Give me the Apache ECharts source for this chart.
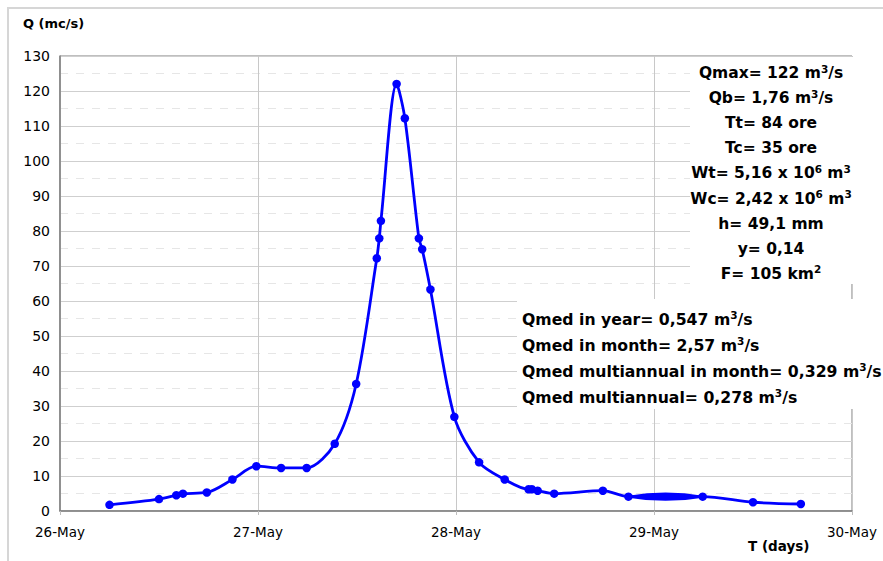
<!DOCTYPE html>
<html>
<head>
<meta charset="utf-8">
<script src="https://cdn.jsdelivr.net/npm/echarts@6/dist/echarts.min.js"></script>
<style>
  html, body { margin: 0; padding: 0; background: #ffffff; }
  #chart { width: 883px; height: 561px; }
</style>
</head>
<body>
<div id="chart"></div>
<script>
// Flood hydrograph: hours counted from 26-May 00:00, discharge in m3/s
const hours = [6, 12, 14.1, 14.9, 17.8, 20.9, 23.8, 26.8, 29.9, 33.3, 35.9,
               38.4, 38.7, 38.9, 40.8, 41.8, 43.5, 43.9, 44.9, 47.8,
               50.8, 53.9, 56.8, 57.2, 57.9, 59.9, 65.8, 68.9, 77.9, 84, 89.8];
const flow  = [1.76, 3.4, 4.5, 4.95, 5.3, 9.0, 12.8, 12.3, 12.3, 19.2, 36.3,
               72.2, 77.9, 82.9, 122, 112.2, 77.9, 74.8, 63.3, 26.9,
               13.9, 9.0, 6.2, 6.2, 5.8, 4.95, 5.8, 4.1, 4.1, 2.5, 2.0];
const dayLabels = ['26-May', '27-May', '28-May', '29-May', '30-May'];
const yTicks = [0, 10, 20, 30, 40, 50, 60, 70, 80, 90, 100, 110, 120, 130];

// Summary lines (parameters of the flood wave)
const statsLines = [
  ['Qmax= 122 m', '3', '/s'],
  ['Qb= 1,76 m', '3', '/s'],
  ['Tt= 84 ore'],
  ['Tc= 35 ore'],
  ['Wt= 5,16 x 10', '6', ' m', '3'],
  ['Wc= 2,42 x 10', '6', ' m', '3'],
  ['h= 49,1 mm'],
  ['y= 0,14'],
  ['F= 105 km', '2']
];
const meanLines = [
  ['Qmed in year= 0,547 m', '3', '/s'],
  ['Qmed in month= 2,57 m', '3', '/s'],
  ['Qmed multiannual in month= 0,329 m', '3', '/s'],
  ['Qmed multiannual= 0,278 m', '3', '/s']
];

// Segment where the smoothed curve doubles over itself (29-May)
const loopFrom = 27;

const series = hours.map((h, i) => [h, flow[i]]);
const FONT = 'DejaVu Sans, Verdana, sans-serif';

function richLine(parts) {
  return parts.map((p, i) => (i % 2 === 0 ? '{b|' + p + '}' : '{s|' + p + '}')).join('');
}
function makeRich(size) {
  return {
    b: { fontFamily: FONT, fontWeight: 'bold', fontSize: size, lineHeight: 20, color: '#000' },
    s: { fontFamily: FONT, fontWeight: 'bold', fontSize: 10.5, lineHeight: 11, verticalAlign: 'top', color: '#000' }
  };
}

const graphics = [
  // outer chart frame
  { type: 'rect', z: 1, silent: true,
    shape: { x: 8, y: 8, width: 880, height: 560 },
    style: { fill: 'none', stroke: '#d6d6d6', lineWidth: 2 } },
  // white panels behind the annotation text
  { type: 'rect', z: 50, shape: { x: 690, y: 57, width: 193, height: 227 }, style: { fill: '#ffffff' } },
  { type: 'rect', z: 50, shape: { x: 517, y: 299, width: 366, height: 110 }, style: { fill: '#ffffff' } },
  { type: 'text', z: 60, left: 23, top: 17,
    style: { text: 'Q (mc/s)', fontFamily: FONT, fontWeight: 'bold', fontSize: 13, fill: '#000' } },
  { type: 'text', z: 60, left: 748, top: 539,
    style: { text: 'T (days)', fontFamily: FONT, fontWeight: 'bold', fontSize: 13.5, fill: '#000' } }
];
statsLines.forEach((parts, i) => {
  graphics.push({ type: 'text', z: 60, x: 771, y: 73 + i * 25.1,
    style: { text: richLine(parts), rich: makeRich(15.5), align: 'center', verticalAlign: 'middle' } });
});
meanLines.forEach((parts, i) => {
  graphics.push({ type: 'text', z: 60, x: 522, y: 319 + i * 26,
    style: { text: richLine(parts), rich: makeRich(15.7), align: 'left', verticalAlign: 'middle' } });
});

const chart = echarts.init(document.getElementById('chart'), null, { renderer: 'svg' });
chart.setOption({
  backgroundColor: '#ffffff',
  animation: false,
  grid: { left: 60, right: 31, top: 56, bottom: 50, show: true, borderColor: '#7f7f7f', borderWidth: 1 },
  xAxis: {
    type: 'value', min: 0, max: 96, interval: 24,
    axisLine: { show: true, lineStyle: { color: '#7f7f7f', width: 1.5 } },
    axisTick: { show: true, length: 4, lineStyle: { color: '#bdbdbd' } },
    axisLabel: {
      margin: 14, color: '#000', fontSize: 13.5, fontFamily: FONT,
      formatter: v => dayLabels[Math.round(v / 24)]
    },
    splitLine: { show: true, lineStyle: { color: '#c8c8c8', width: 1 } }
  },
  yAxis: {
    type: 'value', min: yTicks[0], max: yTicks[yTicks.length - 1], interval: 10,
    axisLine: { show: true, lineStyle: { color: '#7f7f7f', width: 1.5 } },
    axisTick: { show: false },
    axisLabel: { margin: 10, color: '#000', fontSize: 14, fontFamily: FONT },
    splitLine: { show: true, lineStyle: { color: '#cfcfcf', width: 1 } },
    minorTick: { show: false, splitNumber: 2 },
    minorSplitLine: { show: true, lineStyle: { color: '#e6e6e6', type: [8, 8], width: 1 } }
  },
  graphic: graphics,
  series: [
    {
      type: 'line', data: series, smooth: 0.3,
      lineStyle: { color: '#0000ff', width: 2.8 },
      itemStyle: { color: '#0000ff' },
      symbol: 'circle', symbolSize: 8.5, z: 10
    },
    {
      // lens-shaped doubling of the smoothed line between two readings
      type: 'custom', z: 9, silent: true,
      data: [[hours[loopFrom], flow[loopFrom], hours[loopFrom + 1], flow[loopFrom + 1]]],
      renderItem: function (params, api) {
        const a = api.coord([api.value(0), api.value(1)]);
        const b = api.coord([api.value(2), api.value(3)]);
        const mx = (a[0] + b[0]) / 2, my = (a[1] + b[1]) / 2;
        const bulge = 3.2;
        const d = 'M' + a[0] + ' ' + a[1] +
          ' Q' + mx + ' ' + (my - 2 * bulge) + ' ' + b[0] + ' ' + b[1] +
          ' Q' + mx + ' ' + (my + 2 * bulge) + ' ' + a[0] + ' ' + a[1] + 'Z';
        return { type: 'path', shape: { pathData: d }, style: { fill: '#0000ff', stroke: '#0000ff', lineWidth: 2 } };
      }
    }
  ]
});
</script>
</body>
</html>
